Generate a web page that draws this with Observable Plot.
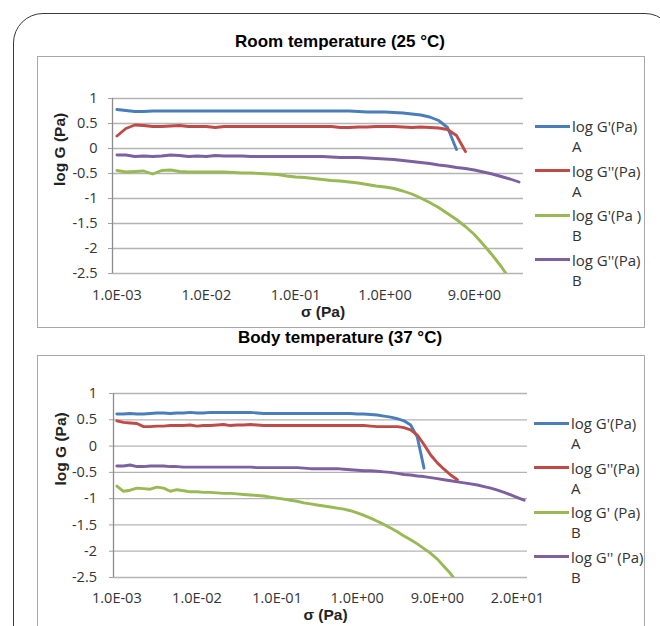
<!DOCTYPE html>
<html>
<head>
<meta charset="utf-8">
<script src="https://cdn.jsdelivr.net/npm/d3@7"></script>
<script src="https://cdn.jsdelivr.net/npm/@observablehq/plot@0.6"></script>
<style>
html,body{margin:0;padding:0;background:#fff;width:660px;height:626px;overflow:hidden;position:relative}
#card{position:absolute;left:13px;top:13px;width:662px;height:720px;border:1.6px solid #3a3a3a;border-radius:30px;box-sizing:border-box}
.box{position:absolute;left:37px;width:608px;border:1.6px solid #a8a8a8;box-sizing:border-box;background:#fff}
.title{position:absolute;left:0;width:680px;text-align:center;font:bold 17px "Liberation Sans",Arial,sans-serif;color:#000;line-height:20px}
.panel{position:absolute;left:38px}
.leg{position:absolute;font:15px "Open Sans",sans-serif;color:#333;line-height:20px;white-space:nowrap}
.leg i{position:absolute;left:0;width:35px;height:3px}
.leg span{position:absolute;left:37px;top:0}
</style>
</head>
<body>
<div id="card"></div>
<div class="title" style="top:32px">Room temperature (25 °C)</div>
<div class="box" style="top:56px;height:272px"></div>
<div class="title" style="top:328px">Body temperature (37 °C)</div>
<div class="box" style="top:355px;height:300px"></div>
<div id="p1" class="panel" style="top:57px"></div>
<div id="p2" class="panel" style="top:356px"></div>
<div id="legends"></div>
<script>
// ---------- data ----------
const yTicks = [1, 0.5, 0, -0.5, -1, -1.5, -2, -2.5];
const seriesColors = ["#4A7EBB", "#BE4B48", "#98B954", "#7D60A0"];

const roomTickIndex = [0, 10, 20, 30, 40];
const roomTickLabels = ["1.0E-03", "1.0E-02", "1.0E-01", "1.0E+00", "9.0E+00"];
const roomCount = 46;
const roomNames = [["log G'(Pa)", "A"], ["log G''(Pa)", "A"], ["log G'(Pa )", "B"], ["log G''(Pa)", "B"]];

const roomGpA = [0.78,0.76,0.74,0.74,0.75,0.75,0.75,0.75,0.75,0.75,
  0.75,0.75,0.75,0.75,0.75,0.75,0.75,0.75,0.75,0.75,
  0.75,0.75,0.75,0.75,0.75,0.75,0.75,0.74,0.73,0.73,
  0.73,0.72,0.71,0.69,0.67,0.63,0.56,0.42,-0.02];
const roomGppA = [0.25,0.40,0.47,0.46,0.44,0.44,0.45,0.46,0.44,0.44,
  0.44,0.42,0.44,0.44,0.44,0.44,0.44,0.44,0.44,0.44,
  0.44,0.44,0.44,0.44,0.44,0.42,0.42,0.43,0.43,0.44,
  0.44,0.44,0.43,0.42,0.43,0.42,0.41,0.38,0.26,-0.06];
const roomGpB = [-0.44,-0.47,-0.46,-0.45,-0.51,-0.44,-0.43,-0.46,-0.47,-0.47,
  -0.47,-0.47,-0.47,-0.48,-0.49,-0.49,-0.50,-0.51,-0.52,-0.55,
  -0.57,-0.58,-0.60,-0.62,-0.64,-0.65,-0.67,-0.69,-0.72,-0.75,
  -0.77,-0.80,-0.85,-0.91,-0.99,-1.08,-1.18,-1.30,-1.42,-1.56,
  -1.72,-1.92,-2.13,-2.36,-2.62];
const roomGppB = [-0.13,-0.13,-0.16,-0.15,-0.16,-0.15,-0.13,-0.14,-0.16,-0.15,
  -0.16,-0.14,-0.15,-0.15,-0.15,-0.16,-0.16,-0.16,-0.16,-0.16,
  -0.16,-0.16,-0.16,-0.16,-0.17,-0.18,-0.18,-0.18,-0.19,-0.20,
  -0.21,-0.22,-0.24,-0.26,-0.28,-0.30,-0.33,-0.35,-0.38,-0.40,
  -0.43,-0.47,-0.51,-0.56,-0.61,-0.67];

const bodyTickIndex = [0, 12, 24, 36, 48, 60];
const bodyTickLabels = ["1.0E-03", "1.0E-02", "1.0E-01", "1.0E+00", "9.0E+00", "2.0E+01"];
const bodyCount = 62;
const bodyNames = [["log G'(Pa)", "A"], ["log G''(Pa)", "A"], ["log G' (Pa)", "B"], ["log G'' (Pa)", "B"]];

const bodyGpA = [0.61,0.61,0.62,0.61,0.61,0.62,0.63,0.63,0.62,0.63,
  0.63,0.64,0.63,0.63,0.64,0.64,0.64,0.64,0.64,0.64,
  0.64,0.63,0.62,0.62,0.62,0.62,0.62,0.62,0.62,0.62,
  0.62,0.62,0.62,0.62,0.62,0.62,0.61,0.61,0.60,0.59,
  0.57,0.55,0.52,0.48,0.40,0.17,-0.42];
const bodyGppA = [0.48,0.45,0.44,0.43,0.37,0.37,0.38,0.38,0.39,0.39,
  0.39,0.40,0.38,0.39,0.39,0.40,0.41,0.39,0.40,0.40,
  0.41,0.40,0.39,0.39,0.39,0.39,0.39,0.39,0.39,0.39,
  0.39,0.39,0.39,0.39,0.39,0.39,0.39,0.39,0.38,0.37,
  0.37,0.37,0.37,0.35,0.31,0.21,0.03,-0.17,-0.32,-0.44,
  -0.55,-0.64];
const bodyGpB = [-0.76,-0.86,-0.84,-0.80,-0.81,-0.82,-0.78,-0.80,-0.86,-0.83,
  -0.85,-0.87,-0.87,-0.88,-0.88,-0.89,-0.90,-0.90,-0.91,-0.92,
  -0.93,-0.94,-0.95,-0.97,-0.99,-1.01,-1.03,-1.05,-1.08,-1.10,
  -1.12,-1.14,-1.16,-1.18,-1.20,-1.23,-1.27,-1.32,-1.37,-1.43,
  -1.49,-1.56,-1.63,-1.71,-1.78,-1.86,-1.95,-2.04,-2.15,-2.29,
  -2.43,-2.60];
const bodyGppB = [-0.38,-0.38,-0.36,-0.39,-0.39,-0.38,-0.38,-0.38,-0.39,-0.39,
  -0.40,-0.40,-0.40,-0.40,-0.40,-0.40,-0.40,-0.40,-0.40,-0.40,
  -0.40,-0.41,-0.41,-0.41,-0.41,-0.41,-0.41,-0.41,-0.42,-0.43,
  -0.43,-0.43,-0.43,-0.43,-0.44,-0.45,-0.46,-0.47,-0.47,-0.48,
  -0.49,-0.50,-0.52,-0.54,-0.55,-0.57,-0.58,-0.60,-0.62,-0.64,
  -0.66,-0.68,-0.70,-0.72,-0.74,-0.77,-0.80,-0.84,-0.88,-0.93,
  -0.98,-1.03];

// ---------- drawing ----------
function panel(cfg) {
  const lines = cfg.series.map((vals, s) =>
    Plot.line(vals, {x: (d, i) => i, y: d => d, stroke: seriesColors[s], strokeWidth: 2.9,
      strokeLinejoin: "round", strokeLinecap: "round", clip: true}));
  return Plot.plot({
    width: 607, height: 270,
    marginLeft: cfg.mL, marginRight: cfg.mR, marginTop: cfg.mT, marginBottom: cfg.mB,
    style: {fontFamily: "'Open Sans', sans-serif", fontSize: "14.5px", color: "#333", background: "transparent", overflow: "visible"},
    x: {type: "linear", domain: [-0.5, cfg.n - 0.5], axis: null},
    y: {domain: [-2.5, 1], axis: null},
    marks: [
      Plot.gridY(yTicks, {stroke: "#b4b4b4", strokeOpacity: 1, strokeWidth: 1.3}),
      Plot.ruleX([-0.5], {stroke: "#8c8c8c", strokeWidth: 1.3}),
      Plot.axisY(yTicks, {tickSize: 4, tickPadding: cfg.yPad, stroke: "#a0a0a0", tickFormat: d => String(d), label: null}),
      Plot.axisX(cfg.tickIdx, {tickSize: 0, tickPadding: cfg.xPad, tickFormat: d => cfg.tickLab[cfg.tickIdx.indexOf(d)], label: null}),
      ...lines,
      Plot.text(["σ (Pa)"], {frameAnchor: "bottom", dy: cfg.xtDy, dx: 5, fontWeight: "bold", fontSize: 15.5,
        fontFamily: "'Liberation Sans', Arial, sans-serif", fill: "#222"}),
      Plot.text(["log G (Pa)"], {frameAnchor: "left", dx: -52, rotate: -90, fontWeight: "bold", fontSize: 15.5,
        fontFamily: "'Liberation Sans', Arial, sans-serif", fill: "#222"})
    ]
  });
}

document.getElementById("p1").append(panel({
  series: [roomGpA, roomGppA, roomGpB, roomGppB], n: roomCount,
  tickIdx: roomTickIndex, tickLab: roomTickLabels,
  mL: 74, mR: 122, mT: 41, mB: 54, xPad: 16, yPad: 11, xtDy: 43
}));
document.getElementById("p2").append(panel({
  series: [bodyGpA, bodyGppA, bodyGpB, bodyGppB], n: bodyCount,
  tickIdx: bodyTickIndex, tickLab: bodyTickLabels,
  mL: 75, mR: 118, mT: 37, mB: 49, xPad: 15, yPad: 12.5, xtDy: 42
}));

function legend(names, x, ys) {
  const root = document.getElementById("legends");
  names.forEach((nm, k) => {
    const d = document.createElement("div");
    d.className = "leg";
    d.style.left = x + "px";
    d.style.top = (ys[k] - 10) + "px";
    const ln = document.createElement("i");
    ln.style.top = "8.5px";
    ln.style.background = seriesColors[k];
    const t = document.createElement("span");
    t.innerHTML = nm[0] + "<br>" + nm[1];
    d.append(ln, t);
    root.append(d);
  });
}
legend(roomNames, 535, [126, 170.5, 215, 259.5]);
legend(bodyNames, 534, [423, 467.5, 512, 556.5]);
</script>
</body>
</html>
